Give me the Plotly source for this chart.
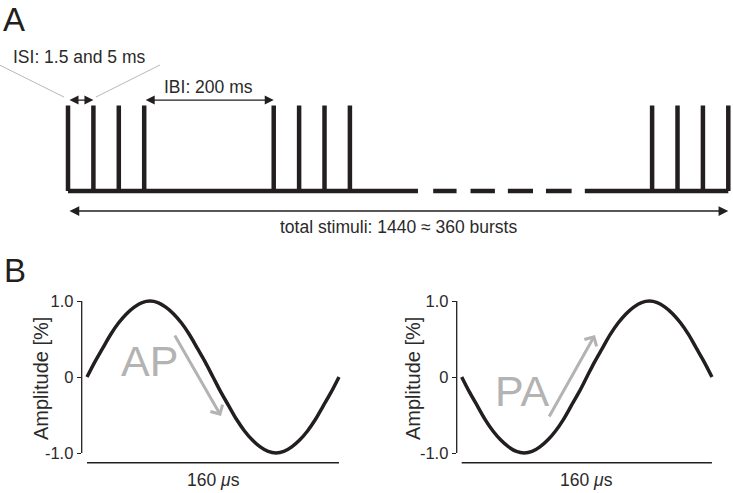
import plotly.graph_objects as go

# ---------------- Panel A data (schematic units: 1 = one inter-pulse interval) ----------------
burst_onsets = [0, 8.1, 23]
pulse_offsets = [0, 1, 2, 3]
baseline_start = [0, 14.38, 15.85, 17.32, 18.82, 20.35]
baseline_end = [13.78, 15.30, 16.81, 18.31, 19.83, 26.0]
isi_span = [0, 1]
ibi_span = [3, 8.1]
total_span = [0, 26]
isi_label = "ISI: 1.5 and 5 ms"
ibi_label = "IBI: 200 ms"
total_label = "total stimuli: 1440 ≈ 360 bursts"

# ---------------- Panel B data ----------------
time_us = [0, 5, 10, 15, 20, 25, 30, 35, 40, 45, 50, 55, 60, 65, 70, 75, 80,
           85, 90, 95, 100, 105, 110, 115, 120, 125, 130, 135, 140, 145, 150, 155, 160]
ap_amp = [0, 0.2, 0.38, 0.56, 0.71, 0.83, 0.92, 0.98, 1.0, 0.98, 0.92, 0.83, 0.71, 0.56, 0.38, 0.2, 0,
          -0.2, -0.38, -0.56, -0.71, -0.83, -0.92, -0.98, -1.0, -0.98, -0.92, -0.83, -0.71, -0.56, -0.38, -0.2, 0]
pa_amp = [0, -0.2, -0.38, -0.56, -0.71, -0.83, -0.92, -0.98, -1.0, -0.98, -0.92, -0.83, -0.71, -0.56, -0.38, -0.2, 0,
          0.2, 0.38, 0.56, 0.71, 0.83, 0.92, 0.98, 1.0, 0.98, 0.92, 0.83, 0.71, 0.56, 0.38, 0.2, 0]
y_tickvals = [-1, 0, 1]
y_ticktext = ["-1.0", "0", "1.0"]
y_title = "Amplitude [%]"
x_scale_label = "160 <i>μ</i>s"
scale_bar_us = [0, 160]
waveform_labels = ["AP", "PA"]

FONT = "Liberation Sans, Arial, Helvetica, sans-serif"
INK = "#231f20"
TXT = "#2a2a2a"
GRAY = "#b3b3b3"

W, H = 733, 493

fig = go.Figure()

# pulse train
px, py = [], []
for b in burst_onsets:
    for o in pulse_offsets:
        px += [b + o, b + o, None]
        py += [0, 1, None]
for s, e in zip(baseline_start, baseline_end):
    px += [s, e, None]
    py += [0, 0, None]
fig.add_trace(go.Scatter(x=px, y=py, mode="lines", line=dict(color=INK, width=4.5),
                         xaxis="x", yaxis="y", hoverinfo="skip", showlegend=False))

# ISI callout leader lines (gray)
y_arr = 1.064
lx = [isi_span[0] - 2.7, isi_span[0] - 0.16, None, isi_span[1] + 2.62, isi_span[1] + 0.1]
ly = [y_arr + 0.41, y_arr + 0.035, None, y_arr + 0.41, y_arr + 0.035]
fig.add_trace(go.Scatter(x=lx, y=ly, mode="lines", line=dict(color="#b8b8b8", width=1),
                         xaxis="x", yaxis="y", hoverinfo="skip", showlegend=False, cliponaxis=False))

# Panel B waveforms + 160 us scale bars
for amp, xa, ya in [(ap_amp, "x2", "y2"), (pa_amp, "x3", "y3")]:
    fig.add_trace(go.Scatter(x=time_us, y=amp, mode="lines", line=dict(color=INK, width=3.5, shape="spline"),
                             xaxis=xa, yaxis=ya, hoverinfo="skip", showlegend=False))
    fig.add_trace(go.Scatter(x=scale_bar_us, y=[-1.128, -1.128], mode="lines", line=dict(color=INK, width=1.5),
                             xaxis=xa, yaxis=ya, hoverinfo="skip", showlegend=False))

annotations = []
# double arrows panel A
for span, yv, w in [(isi_span, y_arr, 1.2), (ibi_span, y_arr, 1.2), (total_span, -0.234, 1.3)]:
    annotations.append(dict(x=span[1], y=yv, ax=span[0], ay=yv, xref="x", yref="y", axref="x", ayref="y",
                            showarrow=True, arrowhead=2, startarrowhead=2, arrowside="end+start",
                            arrowsize=1.5, startarrowsize=1.5, arrowwidth=w, arrowcolor=INK,
                            standoff=0, startstandoff=0, text=""))
annotations.append(dict(x=0.453, y=1.567, xref="x", yref="y", text=isi_label, showarrow=False,
                        xanchor="center", yanchor="middle", font=dict(size=17.5, color=TXT, family=FONT)))
annotations.append(dict(x=sum(ibi_span) / 2, y=1.216, xref="x", yref="y", text=ibi_label, showarrow=False,
                        xanchor="center", yanchor="middle", font=dict(size=17.5, color=TXT, family=FONT)))
annotations.append(dict(x=sum(total_span) / 2, y=-0.421, xref="x", yref="y", text=total_label, showarrow=False,
                        xanchor="center", yanchor="middle", font=dict(size=17.5, color=TXT, family=FONT)))

# panel letters
annotations.append(dict(x=2 / W, y=1, xref="paper", yref="paper", text="A", showarrow=False,
                        xanchor="left", yanchor="top", borderpad=0, font=dict(size=33, color=INK, family=FONT)))
annotations.append(dict(x=2 / W, y=1 - 270 / H, xref="paper", yref="paper", text="B", showarrow=False,
                        xanchor="left", yanchor="middle", font=dict(size=33, color=INK, family=FONT)))

# y titles
for xp in [41 / W, 413 / W]:
    annotations.append(dict(x=xp, y=1 - 379 / H, xref="paper", yref="paper", text=y_title, textangle=-90,
                            xanchor="center", yanchor="middle",
                            showarrow=False, font=dict(size=20, color=TXT, family=FONT)))

# scale labels, AP/PA labels and arrows
specs = [("x2", "y2", waveform_labels[0], 39.4, 0.21, (55.2, 0.566), (85.1, -0.513)),
         ("x3", "y3", waveform_labels[1], 38.4, -0.184, (55.4, -0.54), (85.2, 0.553))]
for xa, ya, lab, tx, ty, tail, tip in specs:
    annotations.append(dict(x=80, y=-1.355, xref=xa, yref=ya, text=x_scale_label, showarrow=False,
                            xanchor="center", yanchor="middle", font=dict(size=17.5, color=TXT, family=FONT)))
    annotations.append(dict(x=tx, y=ty, xref=xa, yref=ya, text=lab, showarrow=False,
                            xanchor="center", yanchor="middle", font=dict(size=43, color=GRAY, family=FONT)))
    annotations.append(dict(x=tip[0], y=tip[1], ax=tail[0], ay=tail[1], xref=xa, yref=ya, axref=xa, ayref=ya,
                            showarrow=True, arrowhead=4, arrowsize=0.9, arrowwidth=3, arrowcolor=GRAY,
                            standoff=0, text=""))

# y-axis spines drawn only over the -1..1 span
shapes = []
for xa, ya in [("x2", "y2"), ("x3", "y3")]:
    shapes.append(dict(type="line", xref=xa + " domain", yref=ya, x0=0, x1=0, y0=-1, y1=1,
                       line=dict(color=INK, width=1.3), layer="above"))

hidden = dict(visible=False, showgrid=False, zeroline=False)
# 76 px per unit, zero at y-pixel 377; domain extends from pixel 290 down to 493
ydom = [0, 1 - 290 / H]
yax = dict(domain=ydom, range=[-(493 - 377) / 76, (377 - 290) / 76], showline=False, ticks="outside",
           ticklen=4, tickwidth=1.3, tickcolor=INK, tickvals=y_tickvals, ticktext=y_ticktext,
           showgrid=False, zeroline=False, tickfont=dict(size=16.5, color=TXT, family=FONT))
xax_b = dict(showline=False, showticklabels=False, ticks="", showgrid=False, zeroline=False)

fig.update_layout(
    width=W, height=H, margin=dict(l=0, r=0, t=0, b=0),
    paper_bgcolor="white", plot_bgcolor="white", showlegend=False,
    xaxis=dict(domain=[0, 1], range=[-2.678, 26.185], anchor="y", **hidden),
    yaxis=dict(domain=[0.5, 1], range=[-0.649, 2.234], anchor="x", **hidden),
    xaxis2=dict(domain=[81.7 / W, (87 + 170 * 1.575) / W], range=[-3.37, 170], anchor="y2", **xax_b),
    yaxis2=dict(anchor="x2", **yax),
    xaxis3=dict(domain=[456.7 / W, (461.7 + 170 * 1.564) / W], range=[-3.2, 170], anchor="y3", **xax_b),
    yaxis3=dict(anchor="x3", **yax),
    annotations=annotations,
    shapes=shapes,
    font=dict(family=FONT, color=TXT),
)

fig.write_html("out.html", config={"displayModeBar": False},
               post_script="document.body.style.margin='0px';document.body.style.overflow='hidden';")
